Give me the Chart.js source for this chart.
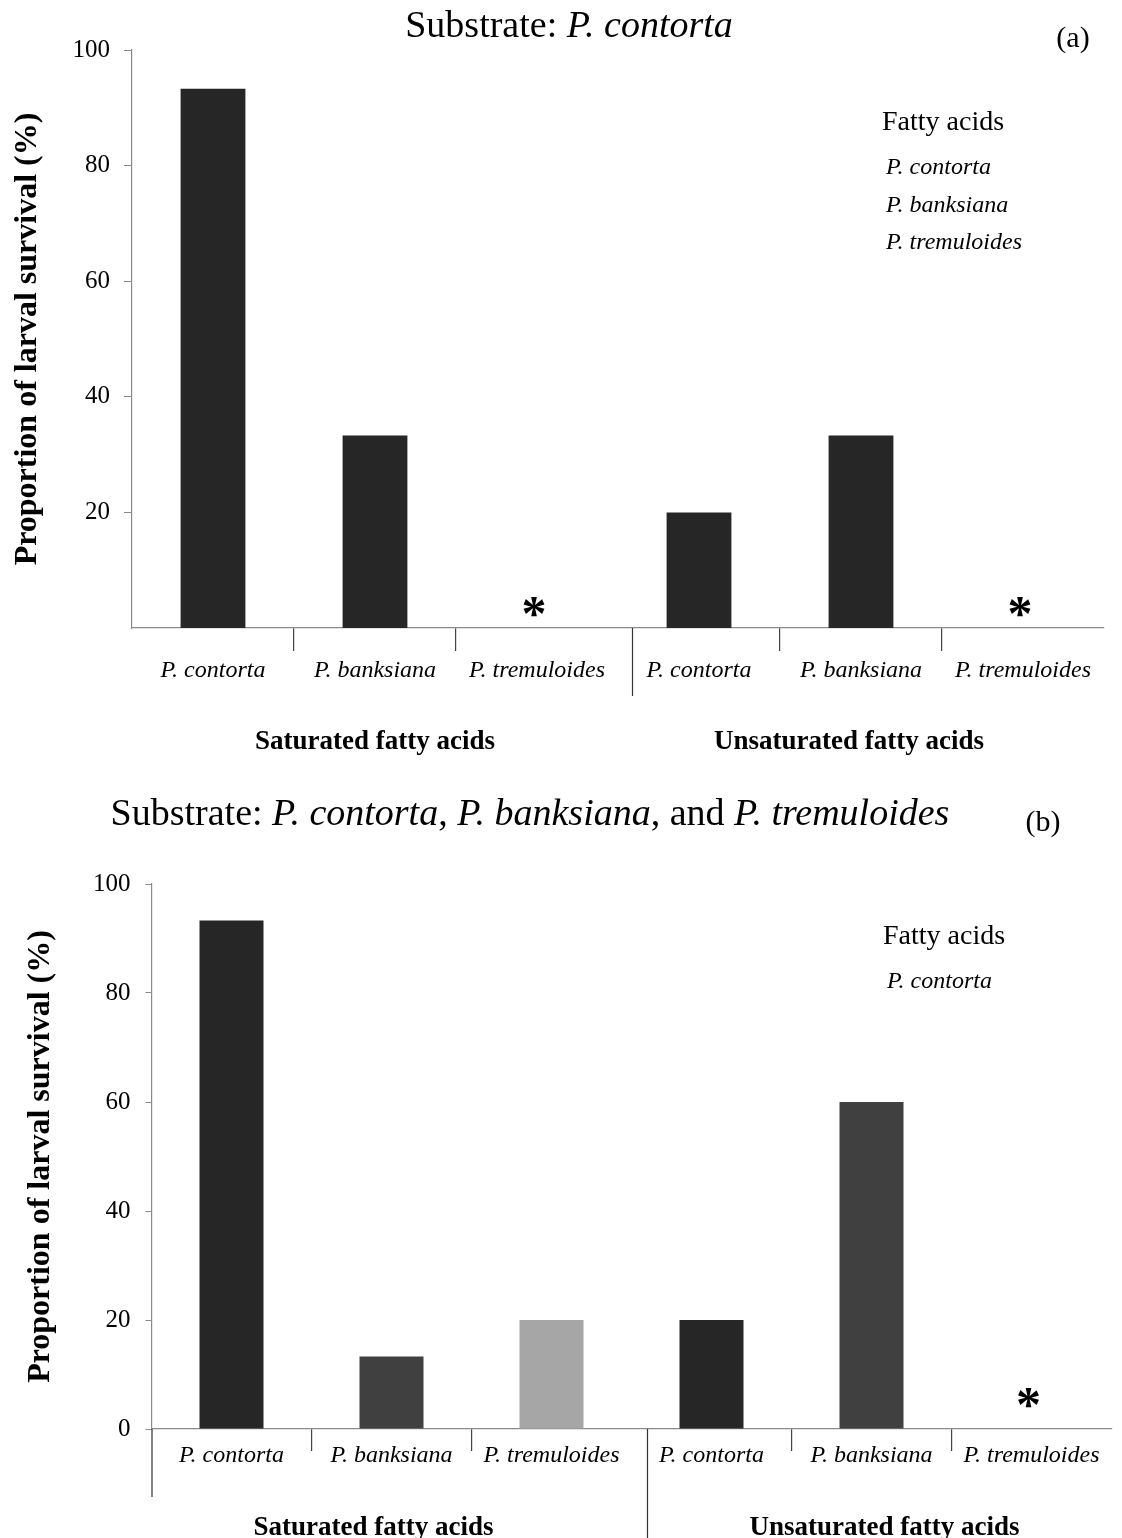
<!DOCTYPE html>
<html>
<head>
<meta charset="utf-8">
<script src="https://cdn.jsdelivr.net/npm/chart.js@4.4.1/dist/chart.umd.min.js"></script>
<style>
  html, body { margin: 0; padding: 0; background: #fff; }
  #wrap { position: relative; width: 1122px; height: 1538px; overflow: hidden; }
  canvas { position: absolute; left: 0; }
</style>
</head>
<body>
<div id="wrap">
  <canvas id="chartA" width="1122" height="775" style="top:0"></canvas>
  <canvas id="chartB" width="1122" height="763" style="top:775px"></canvas>
</div>
<script>
// categories: fatty acid source species, in two groups
const hosts = ['P. contorta', 'P. banksiana', 'P. tremuloides', 'P. contorta', 'P. banksiana', 'P. tremuloides'];
const groups = ['Saturated fatty acids', 'Unsaturated fatty acids'];

// proportion of larval survival (%), 0 = no survival (asterisk)
const survivalA = [93.3, 33.3, 0, 20, 33.3, 0];
const survivalB = [93.3, 13.3, 20, 20, 60, 0];

const yTicksA = [20, 40, 60, 80, 100];
const yTicksB = [0, 20, 40, 60, 80, 100];

const legendA = ['P. contorta', 'P. banksiana', 'P. tremuloides'];
const legendB = ['P. contorta'];

const titleA = [['Substrate: ', false], ['P. contorta', true]];
const titleB = [['Substrate: ', false], ['P. contorta', true], [', ', false], ['P. banksiana', true],
                [', and ', false], ['P. tremuloides', true]];

const colorsA = ['#262626', '#262626', '#262626', '#262626', '#262626', '#262626'];
const colorsB = ['#262626', '#404040', '#a6a6a6', '#262626', '#404040', '#404040'];

const SERIF = '"Liberation Serif", "Times New Roman", serif';
Chart.defaults.font.family = SERIF;
Chart.defaults.color = '#000';

// titles, legend text, asterisks, group dividers and group labels
const decor = {
  id: 'decor',
  afterDraw(chart, args, o) {
    const ctx = chart.ctx;
    const x = chart.scales.x, y = chart.scales.y;
    const base = y.getPixelForValue(0);
    const half = (x.getPixelForValue(1) - x.getPixelForValue(0)) / 2;
    ctx.save();
    ctx.fillStyle = '#000';

    // title with italic species names
    ctx.textBaseline = 'alphabetic';
    ctx.textAlign = 'left';
    let w = 0;
    o.title.forEach(([t, it]) => {
      ctx.font = (it ? 'italic ' : '') + '38px ' + SERIF;
      w += ctx.measureText(t).width;
    });
    let tx = o.titleX - w / 2;
    o.title.forEach(([t, it]) => {
      ctx.font = (it ? 'italic ' : '') + '38px ' + SERIF;
      ctx.fillText(t, tx, o.titleY);
      tx += ctx.measureText(t).width;
    });

    // panel tag
    ctx.textAlign = 'center';
    ctx.textBaseline = 'middle';
    ctx.font = '30px ' + SERIF;
    ctx.fillText(o.tag, o.tagX, o.tagY);

    // legend (text only)
    ctx.textAlign = 'left';
    ctx.font = '28px ' + SERIF;
    ctx.fillText('Fatty acids', o.legendX, o.legendY);
    ctx.font = 'italic 24px ' + SERIF;
    o.legend.forEach((t, i) => ctx.fillText(t, o.legendX + 4, o.legendY + 45 + i * 37.5));

    // asterisks where survival is zero
    ctx.font = 'bold 50px ' + SERIF;
    ctx.textAlign = 'center';
    ctx.textBaseline = 'alphabetic';
    const m = ctx.measureText('*');
    chart.data.datasets[0].data.forEach((v, i) => {
      if (v === 0) {
        const cy = base - o.starRise;
        ctx.fillText('*', x.getPixelForValue(i) - 3, cy + (m.actualBoundingBoxAscent - m.actualBoundingBoxDescent) / 2);
      }
    });

    // group dividers
    ctx.strokeStyle = '#333';
    ctx.lineWidth = 1.2;
    const mid = Math.round(x.getPixelForValue(2) + half + o.midShift) + 0.5;
    ctx.beginPath();
    ctx.moveTo(mid, base);
    ctx.lineTo(mid, base + o.midDrop);
    if (o.leftDrop) {
      ctx.moveTo(x.left + 0.5, base);
      ctx.lineTo(x.left + 0.5, base + o.leftDrop);
    }
    ctx.stroke();

    // group labels
    ctx.font = 'bold 27px ' + SERIF;
    ctx.textBaseline = 'middle';
    groups.forEach((g, k) => {
      const cx = (x.getPixelForValue(k * 3) + x.getPixelForValue(k * 3 + 2)) / 2 + o.groupShift[k];
      ctx.fillText(g, cx, base + o.groupDrop);
    });
    ctx.restore();
  }
};

function makeChart(id, values, colors, yTicks, cfg) {
  return new Chart(document.getElementById(id), {
    type: 'bar',
    data: {
      labels: hosts,
      datasets: [{
        data: values,
        backgroundColor: colors,
        borderWidth: 0,
        categoryPercentage: 1,
        barPercentage: 0.4
      }]
    },
    options: {
      responsive: false,
      animation: false,
      devicePixelRatio: 1,
      layout: { padding: { left: 0, right: cfg.padRight, top: cfg.padTop, bottom: 0 } },
      plugins: {
        legend: { display: false },
        tooltip: { enabled: false },
        decor: cfg.decor
      },
      scales: {
        x: {
          afterFit: s => { s.height = cfg.xHeight; },
          grid: {
            drawOnChartArea: false,
            offset: true,
            tickLength: cfg.xTick,
            lineWidth: 1.2,
            color: c => (c.index > 0 && c.index < 6 && c.index !== 3) ? '#444' : 'rgba(0,0,0,0)'
          },
          border: { color: '#8a8a8a', width: 1.2 },
          ticks: {
            font: { size: 24, style: 'italic' },
            color: '#000',
            padding: cfg.xPad,
            maxRotation: 0,
            autoSkip: false
          }
        },
        y: {
          min: 0,
          max: 100,
          afterFit: s => { s.width = cfg.yWidth; },
          afterBuildTicks: s => { s.ticks = yTicks.map(v => ({ value: v })); },
          grid: { drawOnChartArea: false, tickLength: cfg.yTick, color: '#8a8a8a' },
          border: { color: '#8a8a8a', width: 1.2 },
          ticks: { font: { size: 25 }, color: '#000', padding: cfg.yPad },
          title: {
            display: true,
            text: 'Proportion of larval survival (%)',
            font: { size: 32, weight: 'bold' },
            color: '#000',
            padding: { top: cfg.yTitlePad, bottom: 0 }
          }
        }
      }
    },
    plugins: [decor]
  });
}

makeChart('chartA', survivalA, colorsA, yTicksA, {
  padRight: 18, padTop: 50, xHeight: 147, yWidth: 132,
  xTick: 23, xPad: 5, yTick: 8, yPad: 14, yTitlePad: 9,
  decor: {
    title: titleA, titleX: 569, titleY: 37,
    tag: '(a)', tagX: 1073, tagY: 39,
    legend: legendA, legendX: 882, legendY: 123,
    starRise: 21, midDrop: 68, midShift: 14, leftDrop: 0, groupDrop: 114,
    groupShift: [0, -12]
  }
});

makeChart('chartB', survivalB, colorsB, yTicksB, {
  padRight: 10.5, padTop: 109, xHeight: 109, yWidth: 151.5,
  xTick: 22, xPad: -10, yTick: 6, yPad: 15, yTitlePad: 22,
  decor: {
    title: titleB, titleX: 530, titleY: 50,
    tag: '(b)', tagX: 1043, tagY: 48,
    legend: legendB, legendX: 883, legendY: 162,
    starRise: 31, midDrop: 110, midShift: 15, leftDrop: 68, groupDrop: 99,
    groupShift: [-18, 13]
  }
});
</script>
</body>
</html>
